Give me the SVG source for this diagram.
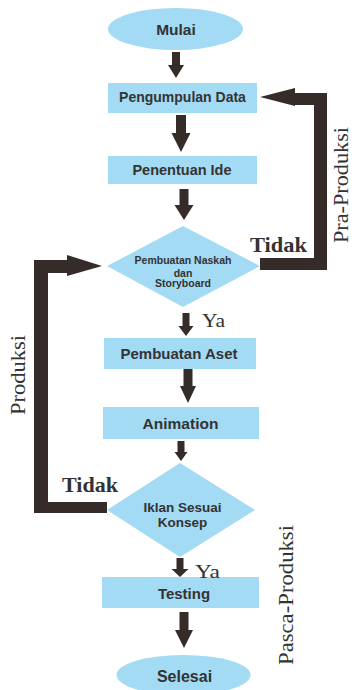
<svg xmlns="http://www.w3.org/2000/svg" width="354" height="690" viewBox="0 0 354 690">
<style>
.n{fill:#a3daf4;}
.a{fill:#352c2a;}
.t{font-family:"Liberation Sans",Arial,sans-serif;font-weight:bold;fill:#333;text-anchor:middle;}
.s{font-family:"Liberation Serif","Times New Roman",serif;fill:#333;}
</style>
<rect width="354" height="690" fill="#fff"/>
<g id="connectors">
<polygon class="a" points="172,52 180,52 180,65 184,65 176,78 168,65 172,65"/>
<polygon class="a" points="176,115 186,115 186,133 190.5,133 181,152 171.5,133 176,133"/>
<polygon class="a" points="179.5,189 188.5,189 188.5,205 193.5,205 184,220 174.5,205 179.5,205"/>
<polygon class="a" points="182.5,313 189.5,313 189.5,326 193.5,326 186,336 178.5,326 182.5,326"/>
<polygon class="a" points="183.5,369 192.5,369 192.5,386 196,386 188,403 180,386 183.5,386"/>
<polygon class="a" points="177.5,441 184.5,441 184.5,452 187.5,452 181,461 174.5,452 177.5,452"/>
<polygon class="a" points="176.5,558 183.5,558 183.5,569 188.5,569 180,577 171.5,569 176.5,569"/>
<polygon class="a" points="179.5,612 188.5,612 188.5,630 193,630 184,648 175,630 179.5,630"/>
<polygon class="a" points="260,258 314,258 314,105 295,105 295,106 260,97 295,88 295,93 327,93 327,270 260,270"/>
<polygon class="a" points="107,502 48,502 48,273 67,273 67,276 102,266 67,255 67,260 34,260 34,513 107,513"/>
</g>
<g id="mulai"><ellipse class="n" cx="175.5" cy="29" rx="67.5" ry="21"/><text class="t" x="176" y="34.5" font-size="15.5">Mulai</text></g>
<g id="pengumpulan"><rect class="n" x="108" y="83" width="149" height="30"/><text class="t" x="182.5" y="102" font-size="14">Pengumpulan Data</text></g>
<g id="penentuan"><rect class="n" x="108" y="156" width="149" height="28"/><text class="t" x="182" y="175" font-size="14.5">Penentuan Ide</text></g>
<g id="naskah"><polygon class="n" points="183,226 260,266 183,307 107,266"/><text class="t" x="183" y="264" font-size="10.5">Pembuatan Naskah</text><text class="t" x="183" y="276.5" font-size="10.5">dan</text><text class="t" x="183" y="287" font-size="10.5">Storyboard</text></g>
<g id="aset"><rect class="n" x="104" y="338" width="152" height="31"/><text class="t" x="179" y="359" font-size="15">Pembuatan Aset</text></g>
<g id="animation"><rect class="n" x="103" y="407" width="156" height="32"/><text class="t" x="180.5" y="428.5" font-size="15.5">Animation</text></g>
<g id="iklan"><polygon class="n" points="180,463 255,510 180,557 107,510"/><text class="t" x="182.5" y="512" font-size="13.5">Iklan Sesuai</text><text class="t" x="182.5" y="527" font-size="13.5">Konsep</text></g>
<g id="testing"><rect class="n" x="102" y="577" width="157" height="31"/><text class="t" x="184" y="598.5" font-size="15">Testing</text></g>
<g id="selesai"><ellipse class="n" cx="183.5" cy="675" rx="67" ry="20"/><text class="t" x="184.5" y="682" font-size="16">Selesai</text></g>
<g id="labels">
<text class="s" x="250" y="252" font-size="21" font-weight="bold" textLength="57" lengthAdjust="spacingAndGlyphs">Tidak</text>
<text class="s" x="62" y="492" font-size="21" font-weight="bold" textLength="56" lengthAdjust="spacingAndGlyphs">Tidak</text>
<text class="s" x="202" y="327" font-size="19" textLength="23" lengthAdjust="spacingAndGlyphs">Ya</text>
<text class="s" x="195" y="578" font-size="19" textLength="25" lengthAdjust="spacingAndGlyphs">Ya</text>
<text class="s" transform="translate(348,185) rotate(-90)" text-anchor="middle" font-size="20" textLength="116" lengthAdjust="spacingAndGlyphs">Pra-Produksi</text>
<text class="s" transform="translate(25,375) rotate(-90)" text-anchor="middle" font-size="21" textLength="80" lengthAdjust="spacingAndGlyphs">Produksi</text>
<text class="s" transform="translate(293,595) rotate(-90)" text-anchor="middle" font-size="21" textLength="140" lengthAdjust="spacingAndGlyphs">Pasca-Produksi</text>
</g>
</svg>
